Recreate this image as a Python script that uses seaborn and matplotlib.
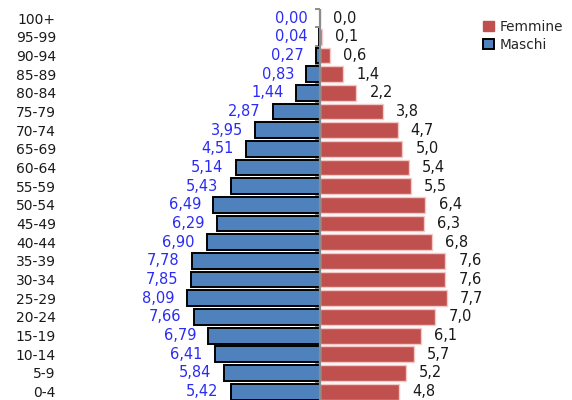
import numpy as np
import pandas as pd
import matplotlib.pyplot as plt
import seaborn as sns
from matplotlib.patches import Patch

AGES = ["100+", "95-99", "90-94", "85-89", "80-84", "75-79", "70-74", "65-69",
        "60-64", "55-59", "50-54", "45-49", "40-44", "35-39", "30-34", "25-29",
        "20-24", "15-19", "10-14", "5-9", "0-4"]
MASCHI = [0.00, 0.04, 0.27, 0.83, 1.44, 2.87, 3.95, 4.51, 5.14, 5.43, 6.49,
          6.29, 6.90, 7.78, 7.85, 8.09, 7.66, 6.79, 6.41, 5.84, 5.42]
FEMMINE = [0.0, 0.1, 0.6, 1.4, 2.2, 3.8, 4.7, 5.0, 5.4, 5.5, 6.4, 6.3, 6.8,
           7.6, 7.6, 7.7, 7.0, 6.1, 5.7, 5.2, 4.8]

BLUE = "#4f81bd"
RED = "#c0504d"
LABEL_BLUE = "#2b2bf5"

df = pd.DataFrame({"age": AGES, "Maschi": MASCHI, "Femmine": FEMMINE})
df["Maschi_neg"] = -df["Maschi"]

sns.set_style("white")
plt.rcParams["font.family"] = ["DejaVu Sans"]

fig = plt.figure(figsize=(5.72, 4.0), dpi=100)
ax = fig.add_axes([0.105, 0.0, 0.895, 1.0])

sns.barplot(data=df, y="age", x="Maschi_neg", order=AGES, orient="h",
            color=BLUE, edgecolor="black", linewidth=1.4, width=0.85,
            saturation=1, ax=ax, zorder=3)
sns.barplot(data=df, y="age", x="Femmine", order=AGES, orient="h",
            color=RED, edgecolor="#f3c9c8", linewidth=1.0, width=0.85,
            saturation=1, ax=ax, zorder=3)

# central axis with small category ticks
n = len(AGES)
ax.vlines(0, -0.5, n, color="#8c8c8c", lw=1.6, zorder=4)
ax.hlines(np.arange(n) - 0.5, -0.3, 0, color="#8c8c8c", lw=1.4, zorder=2)

for i, (m, f) in enumerate(zip(MASCHI, FEMMINE)):
    ax.text(-m - 0.75, i, f"{m:.2f}".replace(".", ","), ha="right", va="center",
            color=LABEL_BLUE, fontsize=10.5)
    ax.text(f + 0.8, i, f"{f:.1f}".replace(".", ","), ha="left", va="center",
            color="#1a1a1a", fontsize=10.5)

ax.set_xlim(-15.8, 15.3)
ax.set_ylim(20.45, -0.97)
ax.set_xlabel("")
ax.set_ylabel("")
ax.set_xticks([])
ax.tick_params(axis="y", length=0, labelsize=10, labelcolor="#1a1a1a", pad=3)
for s in ax.spines.values():
    s.set_visible(False)

handles = [Patch(facecolor=RED, edgecolor=RED, label="Femmine"),
           Patch(facecolor=BLUE, edgecolor="black", linewidth=1.4, label="Maschi")]
fig.legend(handles=handles, loc="upper left", bbox_to_anchor=(0.828, 0.975),
           frameon=False, fontsize=9.8, handlelength=0.8, handleheight=0.8,
           handletextpad=0.4, labelspacing=0.3, borderpad=0.2)

fig.savefig("out.png", dpi=100)
